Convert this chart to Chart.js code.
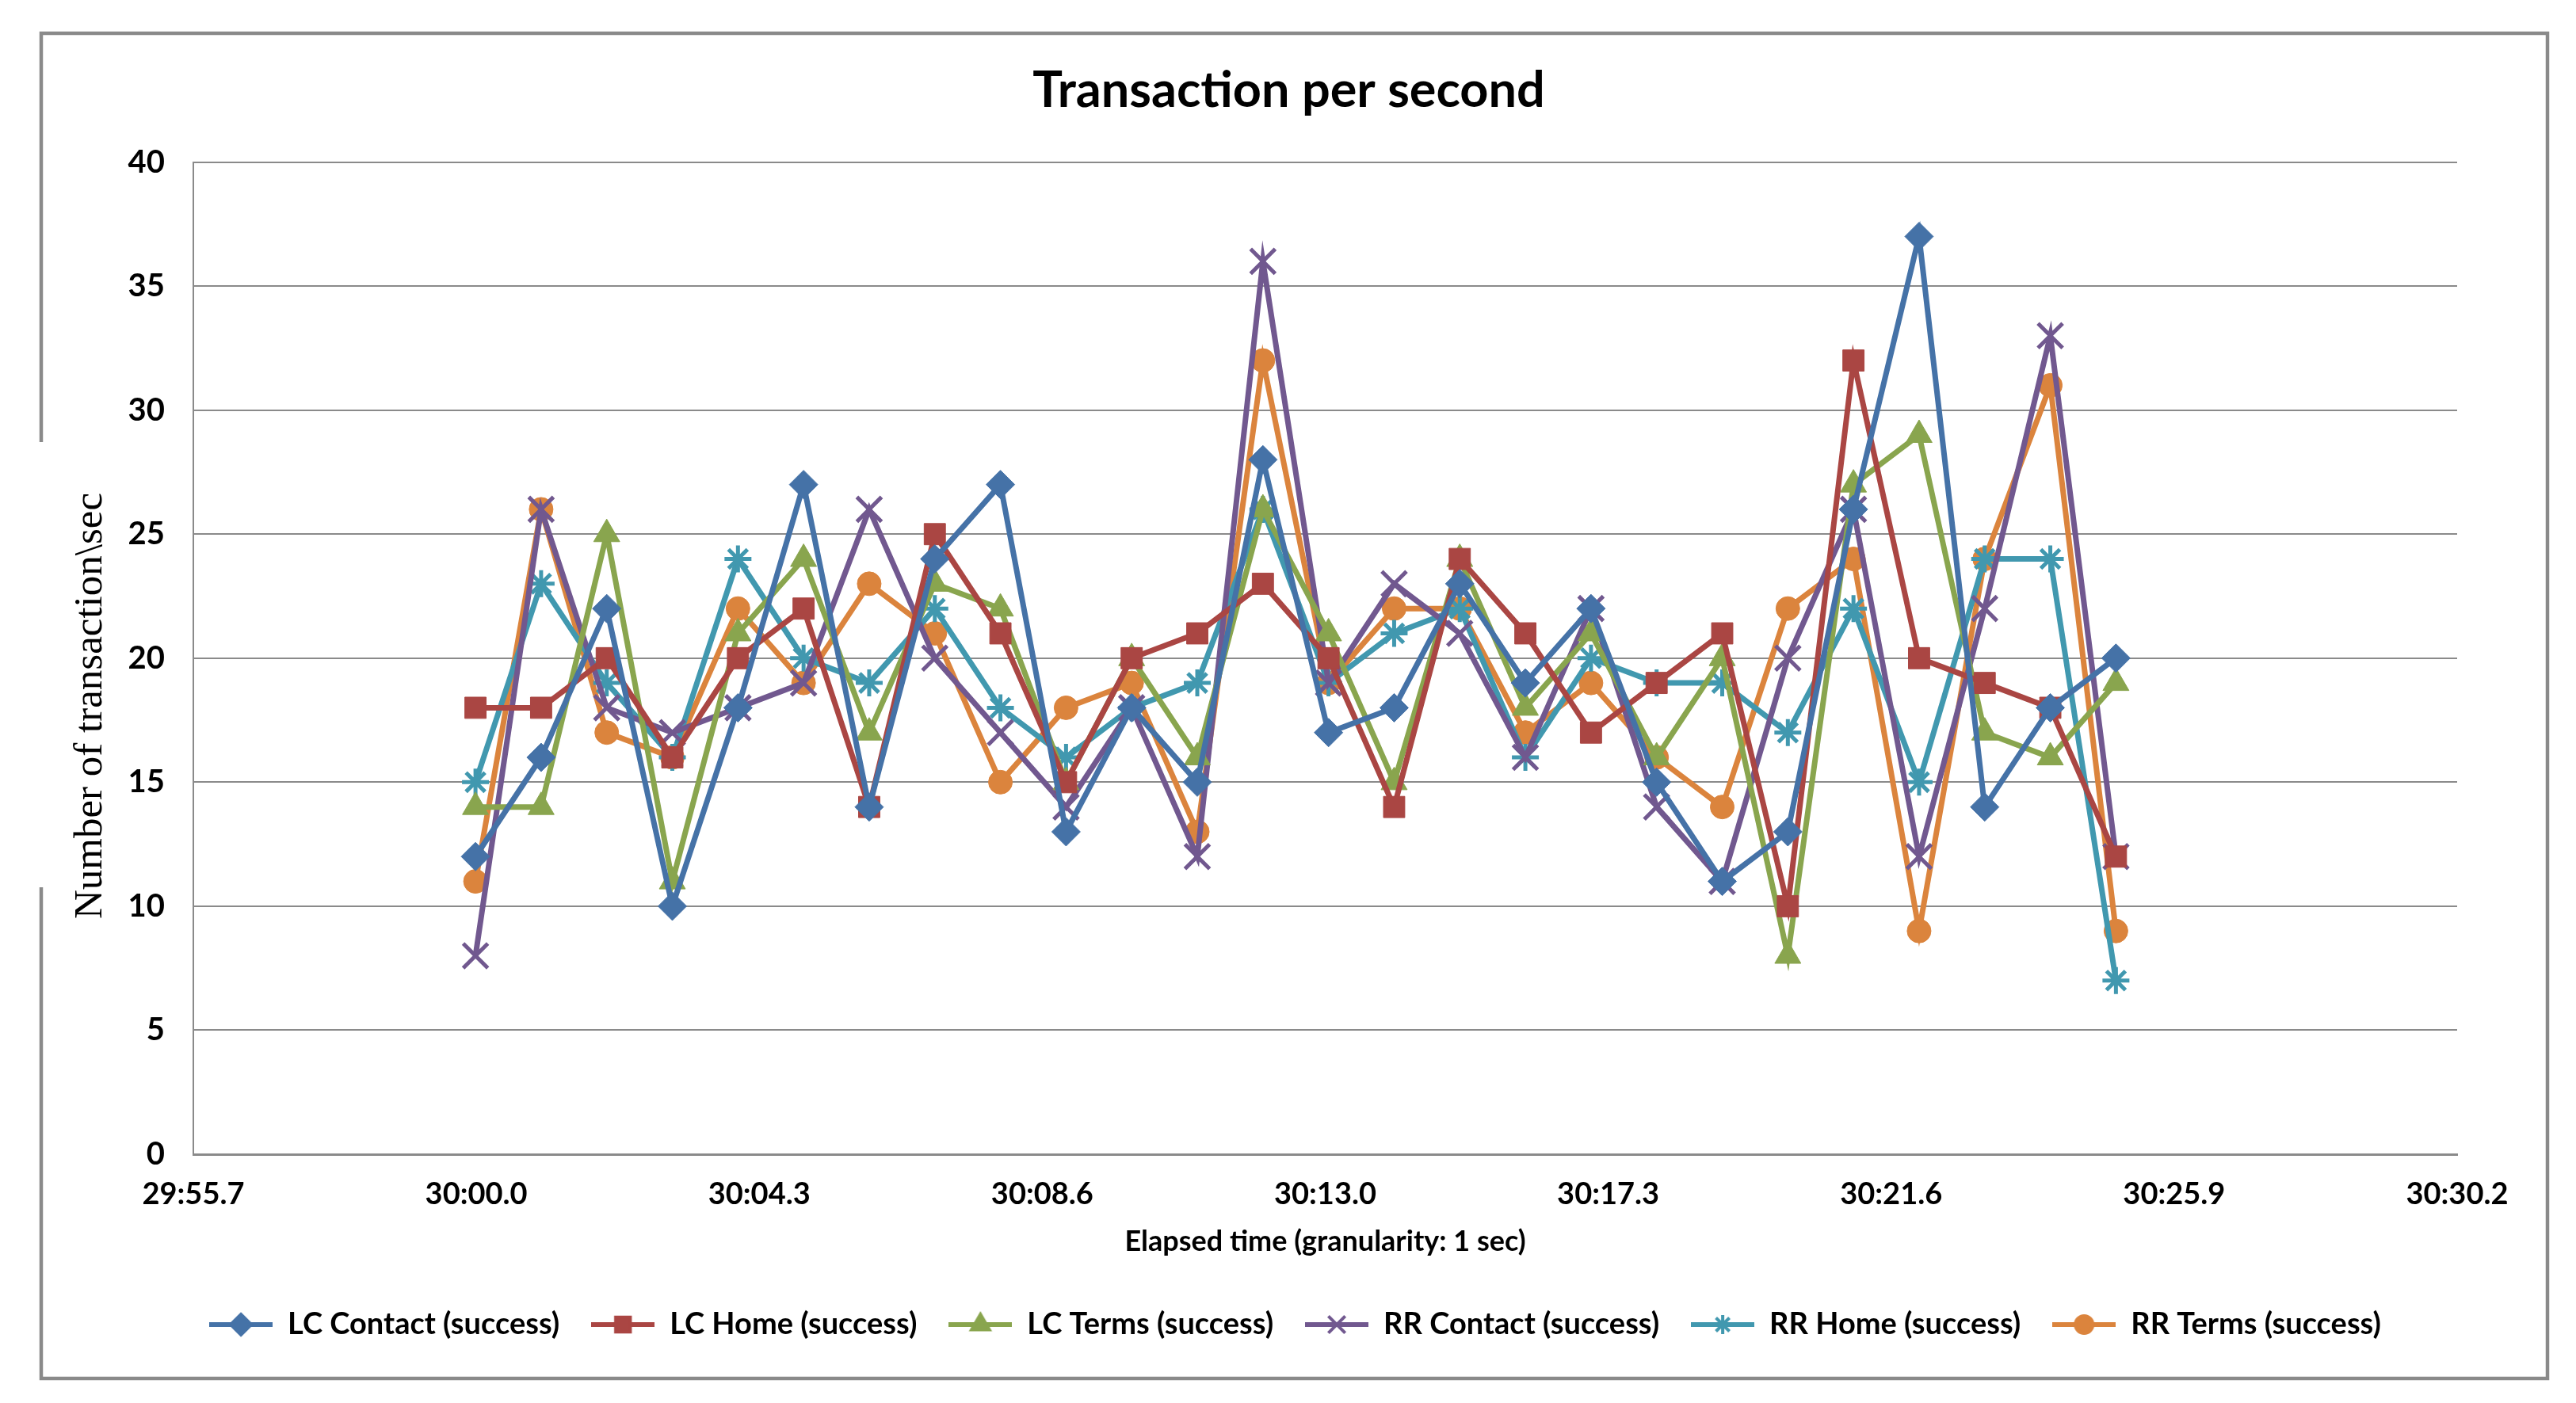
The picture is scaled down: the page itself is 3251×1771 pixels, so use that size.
<!DOCTYPE html>
<html lang="en">
<head>
    <meta charset="UTF-8">
    <title>Transaction per second</title>
    <script src="https://cdn.jsdelivr.net/npm/chart.js"></script>
    <style>
        body {
            margin: 0;
            padding: 0;
            background-color: #ffffff;
        }

        .chart-container {
            width: 3251px;
            height: 1771px;
            position: relative;
        }
    </style>
</head>
<body>

    <div class="chart-container">
        <canvas id="tpsChart"></canvas>
    </div>

    <script>
        // seconds elapsed after 30:00.0, one point per second
        const elapsed = [0, 1, 2, 3, 4, 5, 6, 7, 8, 9, 10, 11, 12, 13, 14, 15, 16, 17, 18, 19, 20, 21, 22, 23, 24, 25];

        const lcContact = [12, 16, 22, 10, 18, 27, 14, 24, 27, 13, 18, 15, 28, 17, 18, 23, 19, 22, 15, 11, 13, 26, 37, 14, 18, 20];
        const lcHome    = [18, 18, 20, 16, 20, 22, 14, 25, 21, 15, 20, 21, 23, 20, 14, 24, 21, 17, 19, 21, 10, 32, 20, 19, 18, 12];
        const lcTerms   = [14, 14, 25, 11, 21, 24, 17, 23, 22, 15, 20, 16, 26, 21, 15, 24, 18, 21, 16, 20, 8, 27, 29, 17, 16, 19];
        const rrContact = [8, 26, 18, 17, 18, 19, 26, 20, 17, 14, 18, 12, 36, 19, 23, 21, 16, 22, 14, 11, 20, 26, 12, 22, 33, 12];
        const rrHome    = [15, 23, 19, 16, 24, 20, 19, 22, 18, 16, 18, 19, 26, 19, 21, 22, 16, 20, 19, 19, 17, 22, 15, 24, 24, 7];
        const rrTerms   = [11, 26, 17, 16, 22, 19, 23, 21, 15, 18, 19, 13, 32, 19, 22, 22, 17, 19, 16, 14, 22, 24, 9, 24, 31, 9];

        // x axis tick labels (Excel style, 8 equal steps)
        const xTickLabels = ['29:55.7', '30:00.0', '30:04.3', '30:08.6', '30:13.0', '30:17.3', '30:21.6', '30:25.9', '30:30.2'];
        const xMin = -4.3;
        const xMax = 30.2;

        const seriesNames = ['LC Contact (success)', 'LC Home (success)', 'LC Terms (success)',
                             'RR Contact (success)', 'RR Home (success)', 'RR Terms (success)'];
        const seriesValues = [lcContact, lcHome, lcTerms, rrContact, rrHome, rrTerms];
        const colors = ['#4572A7', '#AA4643', '#89A54E', '#71588F', '#4198AF', '#DB843D'];
        const styles = ['rectRot', 'rect', 'triangle', 'crossRot', 'star', 'circle'];
        const radii = [18, 19, 19, 22, 17, 15];
        const yTitle = 'Number of transaction\\sec';

        // little line + marker images for the legend
        function legendIcon(color, style, radius) {
            const c = document.createElement('canvas');
            c.width = 80;
            c.height = 44;
            const g = c.getContext('2d');
            g.strokeStyle = color;
            g.fillStyle = color;
            g.lineWidth = 6;
            g.beginPath();
            g.moveTo(0, 22);
            g.lineTo(80, 22);
            g.stroke();
            g.lineWidth = 4;
            Chart.helpers.drawPoint(g, { pointStyle: style, radius: radius, rotation: 0, borderWidth: 4 }, 40, 22);
            return c;
        }

        const datasets = seriesNames.map((name, k) => ({
            label: name,
            data: elapsed.map((s, i) => ({ x: s, y: seriesValues[k][i] })),
            borderColor: colors[k],
            backgroundColor: colors[k],
            borderWidth: 7,
            pointStyle: styles[k],
            pointRadius: radii[k],
            pointBorderWidth: (styles[k] === 'crossRot' || styles[k] === 'star') ? 5 : 1,
            tension: 0
        }));

        const icons = seriesNames.map((n, k) => legendIcon(colors[k], styles[k], Math.round(radii[k] * 0.7)));

        // outer frame with the gap on the left, plus the y axis title placed like Excel does
        const framePlugin = {
            id: 'frame',
            afterLayout(chart) {
                // centre title and legend on the frame, not on the padded area
                chart.titleBlock.left += 46;
                chart.titleBlock.right += 46;
                chart.legend.left += 54;
                chart.legend.right += 54;
            },
            afterDraw(chart) {
                const ctx = chart.ctx;
                ctx.save();
                ctx.strokeStyle = '#8a8a8a';
                ctx.lineWidth = 4.5;
                ctx.beginPath();
                ctx.moveTo(52, 558);
                ctx.lineTo(52, 42);
                ctx.lineTo(3215, 42);
                ctx.lineTo(3215, 1740);
                ctx.lineTo(52, 1740);
                ctx.lineTo(52, 1120);
                ctx.stroke();

                ctx.translate(115, 891);
                ctx.rotate(-Math.PI / 2);
                ctx.fillStyle = '#000000';
                ctx.font = '51px "Liberation Serif"';
                ctx.textAlign = 'center';
                ctx.textBaseline = 'middle';
                ctx.fillText(yTitle, 0, 0);
                ctx.restore();
            }
        };

        const ctx = document.getElementById('tpsChart').getContext('2d');
        new Chart(ctx, {
            type: 'line',
            data: { datasets: datasets },
            plugins: [framePlugin],
            options: {
                responsive: true,
                maintainAspectRatio: false,
                devicePixelRatio: 1,
                animation: false,
                layout: { padding: { left: 60, right: 150, top: 0, bottom: 70 } },
                plugins: {
                    title: {
                        display: true,
                        text: 'Transaction per second',
                        color: '#000000',
                        font: { family: 'Lato', size: 63, weight: 'bold' },
                        padding: { top: 77, bottom: 52 }
                    },
                    legend: {
                        position: 'bottom',
                        labels: {
                            color: '#000000',
                            font: { family: 'Lato', size: 38, weight: 'bold' },
                            usePointStyle: true,
                            pointStyleWidth: 80,
                            padding: 40,
                            generateLabels(chart) {
                                return chart.data.datasets.map((ds, k) => ({
                                    text: ds.label,
                                    pointStyle: icons[k],
                                    fillStyle: colors[k],
                                    strokeStyle: colors[k],
                                    lineWidth: 0,
                                    hidden: false,
                                    datasetIndex: k,
                                    fontColor: '#000000'
                                }));
                            }
                        }
                    },
                    tooltip: { enabled: false }
                },
                scales: {
                    x: {
                        type: 'linear',
                        min: xMin,
                        max: xMax,
                        afterBuildTicks(scale) {
                            const step = (xMax - xMin) / (xTickLabels.length - 1);
                            scale.ticks = xTickLabels.map((t, i) => ({ value: xMin + step * i }));
                        },
                        afterFit(scale) { scale.height = 156; },
                        ticks: {
                            autoSkip: false,
                            maxRotation: 0,
                            padding: 28,
                            color: '#000000',
                            font: { family: 'Lato', size: 38, weight: 'bold' },
                            callback: (value, index) => xTickLabels[index]
                        },
                        grid: { display: false, drawTicks: false },
                        border: { display: true, color: '#8a8a8a', width: 3 },
                        title: {
                            display: true,
                            text: 'Elapsed time (granularity: 1 sec)',
                            color: '#000000',
                            font: { family: 'Lato', size: 36, weight: 'bold' },
                            padding: { top: 0, bottom: 24 }
                        }
                    },
                    y: {
                        min: 0,
                        max: 40,
                        afterFit(scale) { scale.width = 184; },
                        ticks: {
                            stepSize: 5,
                            padding: 36,
                            color: '#000000',
                            font: { family: 'Lato', size: 40, weight: 'bold' }
                        },
                        grid: { color: '#8a8a8a', lineWidth: 2, drawTicks: false },
                        border: { display: true, color: '#8a8a8a', width: 2 },
                        title: { display: false }
                    }
                }
            }
        });
    </script>
</body>
</html>
